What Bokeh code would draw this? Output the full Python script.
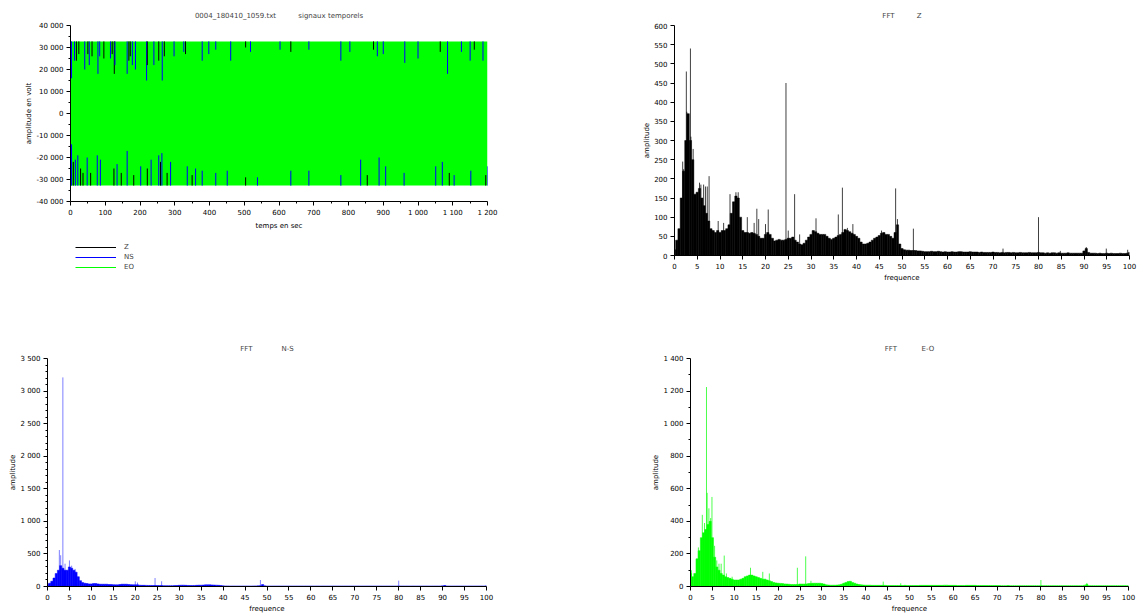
import numpy as np
from bokeh.plotting import figure
from bokeh.layouts import column, row
from bokeh.models import (FixedTicker, CustomJSTickFormatter, Legend, LegendItem,
                          Range1d, ColumnDataSource)
from bokeh.embed import file_html
from bokeh.resources import INLINE

# ---------------- data: time signals (signaux temporels) ----------------
t_span = [0, 1200]
clip_lo, clip_hi = -32768, 32767
series_names = ["Z", "NS", "EO"]
# columns where the EO trace stops short of the top clip, revealing Z / NS underneath
top_t = [3, 11.5, 17, 24, 41, 50, 54, 62, 79, 84, 96, 115, 120, 126, 128, 163, 168, 172, 178,
         187, 219, 221, 240, 254, 264, 270, 298, 326, 331, 379, 398, 418, 461, 504, 518, 603,
         634, 686, 778, 804, 872, 883, 900, 962, 1000, 1064, 1085, 1125, 1150, 1162, 1187]
top_v = [16000, 24000, 24000, 27000, 20000, 27000, 22000, 26000, 18000, 26000, 25000, 25000,
         27000, 18000, 22000, 18000, 24000, 26000, 22000, 20000, 15000, 22000, 22000, 24000,
         15000, 26000, 26000, 28000, 27000, 24000, 27000, 29000, 24000, 30000, 28000, 29000,
         28000, 29000, 24000, 28000, 29000, 26000, 27000, 23000, 25000, 28000, 18000, 28000,
         24000, 29000, 24000]
top_s = ["NS", "NS", "Z", "Z", "NS", "Z", "NS", "Z", "NS", "NS", "Z", "NS",
         "Z", "Z", "NS", "NS", "Z", "Z", "NS", "NS", "NS", "Z", "NS", "Z",
         "NS", "Z", "NS", "NS", "Z", "NS", "NS", "NS", "NS", "Z", "NS", "NS",
         "Z", "NS", "NS", "NS", "Z", "NS", "NS", "NS", "NS", "Z", "NS", "NS",
         "NS", "Z", "NS"]
# columns where the EO trace stops short of the bottom clip
bot_t = [3, 8, 14, 21, 29, 36, 48, 58, 77, 86, 125, 134, 146, 163, 182, 202, 221, 232, 254,
         259, 263, 278, 288, 336, 350, 360, 379, 418, 451, 504, 538, 634, 686, 778, 835, 854,
         888, 907, 960, 1051, 1070, 1090, 1104, 1152, 1195, 1200]
bot_v = [-14000, -22000, -21000, -19000, -25000, -27000, -20000, -27000, -19000, -21000,
         -25000, -23000, -27000, -17000, -28000, -24000, -25000, -21000, -19000, -22000,
         -18000, -27000, -22000, -24000, -28000, -25000, -26000, -27000, -26000, -29000,
         -29000, -26000, -26000, -28000, -21000, -28000, -20000, -24000, -27000, -24000,
         -22000, -27000, -28000, -26000, -28000, -24000]
bot_s = ["NS", "Z", "NS", "NS", "Z", "Z", "NS", "Z", "NS", "NS", "Z",
         "NS", "Z", "NS", "Z", "NS", "Z", "NS", "NS", "Z", "NS",
         "Z", "NS", "NS", "Z", "NS", "NS", "NS", "NS", "Z", "NS",
         "NS", "NS", "NS", "NS", "Z", "NS", "NS", "NS", "NS", "NS",
         "Z", "NS", "NS", "Z", "NS"]

# ---------------- data: spectra (FFT) ----------------
freq = np.arange(0, 100.5, 0.5)
z_amp = [15, 40, 70, 150, 220, 300, 370, 300, 250, 160, 165, 175, 150, 130, 110, 90, 70, 65, 60, 65,
         60, 65, 65, 70, 80, 110, 140, 155, 150, 100, 65, 60, 60, 58, 60, 58, 55, 50, 45, 45,
         55, 60, 55, 45, 38, 40, 42, 40, 40, 42, 45, 45, 48, 40, 35, 30, 28, 32, 40, 48,
         55, 65, 62, 58, 55, 55, 55, 50, 45, 42, 45, 48, 52, 55, 60, 68, 65, 62, 58, 55,
         50, 45, 35, 30, 30, 32, 35, 40, 45, 48, 52, 58, 60, 55, 55, 50, 45, 60, 80, 30,
         18, 15, 14, 14, 13, 13, 13, 12, 12, 11, 10, 10, 10, 11, 10, 10, 11, 10, 9, 10,
         9, 9, 10, 9, 9, 10, 10, 9, 9, 9, 10, 9, 9, 9, 8, 9, 8, 8, 8, 8,
         9, 8, 8, 7, 8, 7, 8, 8, 7, 8, 7, 7, 8, 7, 7, 7, 8, 7, 7, 7,
         8, 7, 7, 6, 7, 6, 7, 7, 6, 7, 6, 6, 6, 7, 6, 6, 6, 6, 6, 6,
         12, 18, 8, 6, 6, 6, 5, 6, 5, 5, 6, 5, 6, 5, 5, 5, 6, 5, 5, 6,
         8]
ns_amp = [30, 50, 80, 130, 200, 250, 320, 280, 250, 250, 300, 280, 250, 220, 150, 90, 60, 50, 45, 40,
          40, 45, 45, 40, 35, 35, 35, 35, 30, 30, 28, 25, 25, 30, 35, 35, 35, 30, 28, 25,
          25, 25, 20, 18, 18, 17, 16, 16, 15, 15, 15, 14, 14, 13, 12, 12, 12, 13, 14, 15,
          18, 20, 20, 18, 16, 15, 14, 16, 18, 20, 20, 22, 25, 25, 25, 24, 22, 20, 18, 15,
          10, 9, 9, 8, 8, 8, 8, 8, 8, 8, 8, 8, 8, 8, 9, 9, 10, 12, 30, 10,
          8, 8, 8, 8, 8, 8, 8, 8, 8, 8, 8, 8, 8, 8, 8, 8, 8, 8, 8, 8,
          8, 8, 8, 8, 8, 8, 8, 8, 8, 8, 8, 8, 8, 8, 8, 8, 8, 8, 8, 8,
          8, 8, 8, 8, 8, 8, 8, 8, 8, 8, 8, 8, 8, 8, 8, 8, 8, 8, 8, 8,
          9, 8, 8, 8, 8, 8, 8, 8, 8, 8, 8, 8, 8, 8, 8, 8, 8, 8, 8, 8,
          10, 15, 8, 8, 8, 8, 8, 8, 8, 8, 8, 8, 8, 8, 8, 8, 8, 8, 8, 8,
          10]
eo_amp = [80, 60, 80, 170, 220, 300, 330, 350, 380, 400, 300, 180, 120, 100, 80, 70, 60, 55, 50, 45,
          40, 40, 40, 45, 50, 60, 65, 70, 70, 65, 60, 55, 50, 45, 45, 40, 35, 30, 25, 22,
          20, 19, 18, 16, 15, 14, 12, 12, 12, 13, 15, 15, 15, 16, 18, 19, 20, 20, 20, 20,
          18, 15, 10, 9, 8, 8, 8, 9, 10, 14, 20, 25, 30, 32, 25, 20, 15, 12, 10, 9,
          8, 8, 8, 7, 7, 7, 7, 7, 7, 7, 6, 6, 6, 6, 6, 6, 6, 6, 7, 6,
          6, 6, 6, 6, 6, 7, 7, 7, 7, 7, 7, 7, 7, 7, 7, 7, 8, 8, 7, 7,
          7, 7, 6, 6, 6, 6, 7, 7, 7, 7, 7, 6, 6, 6, 6, 6, 6, 6, 6, 6,
          6, 6, 5, 5, 5, 6, 5, 5, 5, 5, 5, 5, 5, 5, 5, 5, 5, 5, 5, 5,
          5, 5, 5, 5, 5, 5, 5, 5, 5, 5, 5, 5, 5, 5, 5, 5, 5, 5, 5, 5,
          8, 12, 5, 5, 5, 5, 5, 5, 5, 5, 5, 5, 5, 5, 5, 5, 5, 5, 5, 5,
          5]
z_spk_f = [1.0, 1.8, 2.0, 2.6, 2.7, 3.0, 3.5, 3.6, 4.1, 5.5, 5.8, 6.4, 6.8, 7.2, 7.6, 9.6, 10.8,
           12.2, 13.5, 14.0, 16.0, 17.5, 18.1, 18.5, 20.0, 20.6, 24.5, 25.0, 26.4, 27.5, 31.1,
           36.0, 36.9, 38.0, 39.2, 45.5, 48.6, 49.0, 52.5, 72.2, 80.0, 84.8, 90.5, 94.9, 99.6]
z_spk_a = [45, 245, 225, 480, 375, 345, 540, 310, 278, 190, 185, 185, 180, 180, 207, 90, 85,
           160, 165, 165, 100, 85, 122, 95, 82, 120, 450, 65, 160, 55, 97,
           107, 177, 72, 82, 65, 175, 95, 70, 18, 100, 12, 22, 18, 15]
ns_spk_f = [2.7, 3.0, 3.5, 4.0, 5.0, 5.5, 6.3, 20.0, 20.5, 24.5, 26.0, 48.5, 80.0, 90.5]
ns_spk_a = [560, 480, 3210, 350, 400, 320, 270, 80, 60, 130, 80, 100, 90, 20]
eo_spk_f = [0.2, 1.8, 2.7, 3.2, 3.65, 3.8, 4.2, 4.6, 4.9, 5.5, 6.0, 6.5, 7.0, 7.7, 8.2, 9.5,
            13.7, 16.5, 18.0, 24.4, 26.3, 27.5, 44.0, 48.0, 80.0, 90.5]
eo_spk_a = [100, 240, 440, 390, 1225, 575, 480, 420, 550, 250, 160, 140, 140, 190, 80, 60,
            115, 90, 80, 115, 185, 35, 30, 20, 40, 22]

# ---------------- styling helpers ----------------
FONT = "DejaVu Sans"
FS = "7px"
COLORS = {"Z": "#000000", "NS": "#0000ff", "EO": "#00ff00"}
NB = "\u00a0"

fmt = CustomJSTickFormatter(code="""
    var s = String(Math.round(tick));
    return s.replace(/\\B(?=(\\d{3})+(?!\\d))/g, ' ');
""")


def style(p, xlabel, ylabel, title, xt, xminor, yt, yminor):
    p.toolbar_location = None
    p.outline_line_color = None
    p.xgrid.visible = False
    p.ygrid.visible = False
    p.background_fill_color = "white"
    p.border_fill_color = "white"
    p.title.text = title
    p.title.align = "center"
    p.title.text_font = FONT
    p.title.text_font_size = FS
    p.title.text_font_style = "normal"
    p.title.standoff = 11
    p.title.offset = 0
    for ax, lab, tk, mn in ((p.xaxis[0], xlabel, xt, xminor), (p.yaxis[0], ylabel, yt, yminor)):
        ax.ticker = FixedTicker(ticks=tk, minor_ticks=mn)
        ax.formatter = fmt
        ax.axis_label = lab
        ax.axis_label_text_font = FONT
        ax.axis_label_text_font_size = FS
        ax.axis_label_text_font_style = "normal"
        ax.axis_label_standoff = 2
        ax.major_label_text_font = FONT
        ax.major_label_text_font_size = FS
        ax.major_label_standoff = 3
        ax.major_tick_out = 4
        ax.major_tick_in = 0
        ax.minor_tick_out = 2
        ax.minor_tick_in = 0
        ax.axis_line_color = "black"
        ax.major_tick_line_color = "black"
        ax.minor_tick_line_color = "black"
        ax.major_label_text_color = "black"
        ax.axis_label_text_color = "black"
    p.yaxis[0].axis_label_standoff = 0


def mkfig(w, h, bl, br, bt, bb, xr, yr):
    p = figure(width=w, height=h, output_backend="svg", toolbar_location=None,
               x_range=Range1d(*xr), y_range=Range1d(*yr))
    p.min_border_left = bl
    p.min_border_right = br
    p.min_border_top = bt
    p.min_border_bottom = bb
    return p


# ---------------- panel 1: time signals ----------------
p1 = mkfig(568, 235, 70, 81, 25, 34, (t_span[0], t_span[1]), (-40000, 40000))
p1.quad(left=[t_span[0]], right=[t_span[1]], bottom=[clip_lo], top=[clip_hi],
        fill_color=COLORS["EO"], line_color=None)
top_src = ColumnDataSource(dict(t=top_t, v0=top_v, v1=[clip_hi] * len(top_t),
                                c=[COLORS[s] for s in top_s]))
bot_src = ColumnDataSource(dict(t=bot_t, v0=[clip_lo] * len(bot_t), v1=bot_v,
                                c=[COLORS[s] for s in bot_s]))
for src in (top_src, bot_src):
    p1.segment(x0="t", y0="v0", x1="t", y1="v1", line_color="c", line_width=1, source=src)
style(p1, "temps en sec", "amplitude en volt",
      "0004_180410_1059.txt" + NB * 10 + "signaux temporels",
      list(range(0, 1201, 100)), list(range(50, 1200, 100)),
      list(range(-40000, 40001, 10000)), list(range(-35000, 40000, 10000)))

# legend of panel 1, placed underneath it (own small canvas, frame aligned with panel 1)
pleg = figure(width=568, height=95, output_backend="svg", toolbar_location=None,
              x_range=Range1d(0, 1), y_range=Range1d(0, 1),
              x_axis_location=None, y_axis_location=None)
pleg.min_border_left = 70
pleg.min_border_top = 0
pleg.min_border_right = 81
pleg.min_border_bottom = 0
pleg.outline_line_color = None
pleg.xgrid.visible = False
pleg.ygrid.visible = False
leg_r = [pleg.line([np.nan], [np.nan], line_color=COLORS[n], line_width=1) for n in series_names]
legend = Legend(items=[LegendItem(label=n, renderers=[r]) for n, r in zip(series_names, leg_r)],
                location=(5, 58), orientation="vertical", glyph_width=41, glyph_height=10,
                label_height=10, label_standoff=8, spacing=0, padding=0, margin=0,
                border_line_color=None, background_fill_alpha=0,
                label_text_font=FONT, label_text_font_size=FS)
pleg.add_layout(legend, "center")


def spectrum(p, amp, sf, sa, color, spike_alpha):
    p.vbar(x=freq, width=0.5, bottom=0, top=amp, fill_color=color, line_color=color,
           line_width=0.5)
    p.segment(x0=sf, y0=[0] * len(sf), x1=sf, y1=sa, line_color=color, line_width=1,
              line_alpha=spike_alpha)


# ---------------- panel 2: FFT Z ----------------
p2 = mkfig(569, 330, 106, 8, 25, 75, (0, 100), (0, 600))
spectrum(p2, z_amp, z_spk_f, z_spk_a, COLORS["Z"], 0.75)
style(p2, "frequence", "amplitude", "FFT" + NB * 10 + "Z",
      list(range(0, 101, 5)), [], list(range(0, 601, 50)), [])

# ---------------- panel 3: FFT N-S ----------------
p3 = mkfig(600, 285, 47, 114, 28, 27, (0, 100), (0, 3500))
spectrum(p3, ns_amp, ns_spk_f, ns_spk_a, COLORS["NS"], 0.5)
style(p3, "frequence", "amplitude", "FFT" + NB * 13 + "N-S",
      list(range(0, 101, 5)), [], list(range(0, 3501, 500)),
      [v for v in range(0, 3501, 100) if v % 500])

# ---------------- panel 4: FFT E-O ----------------
p4 = mkfig(536, 285, 90, 8, 28, 27, (0, 100), (0, 1400))
spectrum(p4, eo_amp, eo_spk_f, eo_spk_a, COLORS["EO"], 0.7)
style(p4, "frequence", "amplitude", "FFT" + NB * 11 + "E-O",
      list(range(0, 101, 5)), [], list(range(0, 1401, 200)), list(range(100, 1400, 200)))

layout = column(row(column(p1, pleg), p2), row(p3, p4))
open("out.html", "w").write(file_html(layout, INLINE))
